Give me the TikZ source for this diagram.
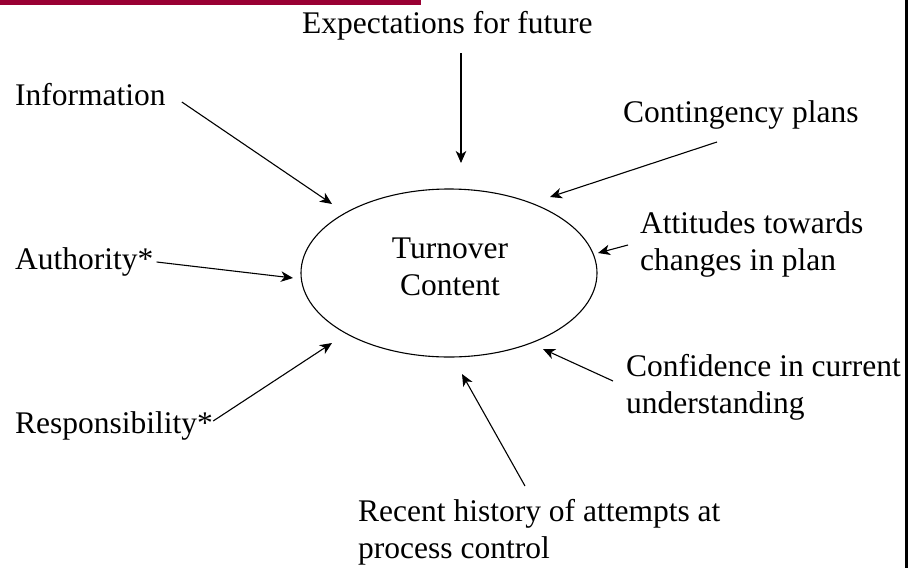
\documentclass[tikz,border=0pt]{standalone}
\usepackage{fontspec}
\setmainfont{Liberation Serif}
\usetikzlibrary{arrows.meta,shapes.geometric}
\definecolor{barred}{RGB}{153,0,51}

\begin{document}
\begin{tikzpicture}[x=1pt,y=-1pt,
	lbl/.style={inner sep=0pt,anchor=base west,align=left,font=\fontsize{31.5}{36.5}\selectfont},
	feed/.style={-{Stealth[length=12pt,width=10.5pt,inset=3.5pt]},line width=1.1pt}]
	\useasboundingbox (0,0) rectangle (909,568);
	% slide trim
	\fill[barred] (0,0) rectangle (421,5);
	\draw[line width=2.5pt] (906.5,0) -- (906.5,568);

	% centre (base of a two-line node sits on its last line)
	\node[draw,ellipse,line width=1.1pt,minimum width=296pt,minimum height=168pt] (turnover) at (449,273) {};
	\node[lbl,anchor=base,align=center] (turnovertxt) at (450,295) {Turnover\\Content};

	% influences
	\node[lbl] (expect) at (302,33) {Expectations for future};
	\node[lbl] (info)   at (15,105) {Information};
	\node[lbl] (conting) at (623,122) {Contingency plans};
	\node[lbl] (attit)  at (640,270) {Attitudes towards\\changes in plan};
	\node[lbl] (author) at (15,269) {Authority*};
	\node[lbl] (conf)   at (626,413) {Confidence in current\\understanding};
	\node[lbl] (resp)   at (15,433) {Responsibility*};
	\node[lbl] (recent) at (358,558) {Recent history of attempts at\\process control};

	% arrow heads stop short of the ellipse
	\coordinate (t_expect)  at (461,163);
	\coordinate (t_info)    at (332,204);
	\coordinate (t_conting) at (550,197);
	\coordinate (t_attit)   at (598,253);
	\coordinate (t_author)  at (293,278);
	\coordinate (t_conf)    at (543,349);
	\coordinate (t_resp)    at (332,343);
	\coordinate (t_recent)  at (462,374);

	\path[feed]
		([shift={(159,20)}]expect.base west) edge (t_expect)
		([shift={(16,-3)}]info.base east) edge (t_info)
		([shift={(94,20)}]conting.base west) edge (t_conting)
		([shift={(-12,-25)}]attit.base west) edge (t_attit)
		([shift={(3,-7)}]author.base east) edge (t_author)
		([shift={(-13,-32)}]conf.base west) edge (t_conf)
		([shift={(0,-12)}]resp.base east) edge (t_resp)
		([shift={(167,-72)}]recent.base west) edge (t_recent);
\end{tikzpicture}
\end{document}
